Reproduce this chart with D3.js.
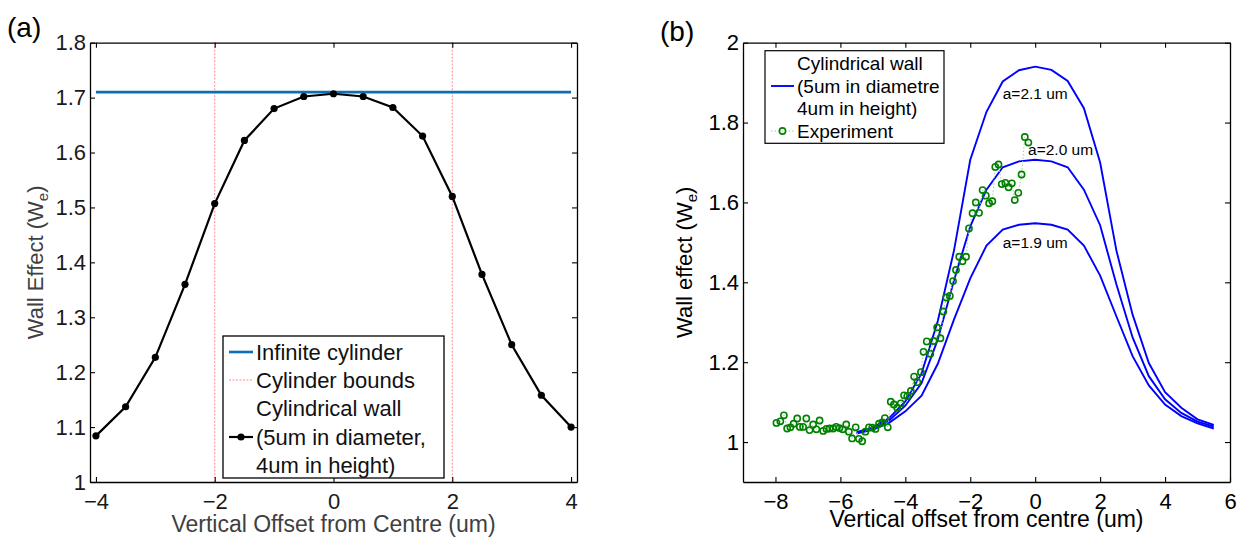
<!DOCTYPE html>
<html>
<head>
<meta charset="utf-8">
<script src="https://cdn.jsdelivr.net/npm/d3@7"></script>
<style>
  body { margin: 0; background: #fff; }
  svg { font-family: "Liberation Sans", Arial, Helvetica, sans-serif; }
</style>
</head>
<body>
<div id="chart"></div>
<script>

// ---- panel (a) data
var offsetA = [-4, -3.5, -3, -2.5, -2, -1.5, -1, -0.5, 0, 0.5, 1, 1.5, 2, 2.5, 3, 3.5, 4];
var wallA = [1.084, 1.137, 1.227, 1.360, 1.507, 1.622, 1.680, 1.702, 1.707, 1.702, 1.682, 1.630, 1.520, 1.378, 1.250, 1.158, 1.100];
var infiniteA = 1.710;
var boundsA = [-2, 2];
var xTicksA = [-4, -2, 0, 2, 4];
var yTicksA = [1, 1.1, 1.2, 1.3, 1.4, 1.5, 1.6, 1.7, 1.8];
var legendA = ["Infinite cylinder", "Cylinder bounds", "Cylindrical wall", "(5um in diameter,", "4um in height)"];

// ---- panel (b) data
var offsetB = [-5.5, -5, -4.5, -4, -3.5, -3, -2.5, -2, -1.5, -1, -0.5, 0, 0.5, 1, 1.5, 2, 2.5, 3, 3.5, 4, 4.5, 5, 5.5];
var wall21 = [1.025, 1.037, 1.060, 1.102, 1.172, 1.303, 1.480, 1.707, 1.827, 1.903, 1.931, 1.940, 1.932, 1.904, 1.836, 1.700, 1.480, 1.319, 1.198, 1.125, 1.086, 1.057, 1.043];
var wall20 = [1.023, 1.034, 1.054, 1.091, 1.148, 1.257, 1.405, 1.540, 1.632, 1.688, 1.703, 1.707, 1.703, 1.688, 1.632, 1.543, 1.395, 1.262, 1.165, 1.107, 1.073, 1.051, 1.039];
var wall19 = [1.021, 1.031, 1.048, 1.077, 1.116, 1.196, 1.307, 1.410, 1.492, 1.532, 1.544, 1.548, 1.544, 1.532, 1.492, 1.417, 1.315, 1.215, 1.142, 1.094, 1.065, 1.047, 1.034];
var curveLabels = ["a=2.1 um", "a=2.0 um", "a=1.9 um"];
var expX = [-7.97, -7.85, -7.74, -7.64, -7.54, -7.44, -7.33, -7.25, -7.15, -7.05,
            -6.95, -6.84, -6.74, -6.64, -6.53, -6.43, -6.33, -6.22, -6.13, -6.03,
            -5.93, -5.82, -5.74, -5.64, -5.53, -5.43, -5.33, -5.23, -5.12, -5.02,
            -4.92, -4.81, -4.71, -4.63, -4.54, -4.45, -4.35, -4.25, -4.14, -4.04,
            -3.94, -3.83, -3.73, -3.63, -3.52, -3.44, -3.34, -3.23, -3.13, -3.02,
            -2.92, -2.83, -2.74, -2.63, -2.53, -2.44, -2.34, -2.24, -2.13, -2.04,
            -1.93, -1.83, -1.73, -1.62, -1.52, -1.42, -1.32, -1.23, -1.13, -1.03,
            -0.92, -0.82, -0.72, -0.63, -0.52, -0.42, -0.32, -0.21];
var expY = [1.048, 1.052, 1.067, 1.034, 1.037, 1.046, 1.059, 1.038, 1.038, 1.059,
            1.030, 1.044, 1.032, 1.054, 1.028, 1.033, 1.034, 1.034, 1.038, 1.035,
            1.032, 1.044, 1.026, 1.009, 1.037, 1.008, 1.002, 1.026, 1.037, 1.036,
            1.033, 1.046, 1.049, 1.060, 1.037, 1.101, 1.094, 1.086, 1.097, 1.117,
            1.115, 1.128, 1.164, 1.150, 1.175, 1.226, 1.252, 1.221, 1.253, 1.287,
            1.260, 1.327, 1.362, 1.366, 1.403, 1.431, 1.464, 1.453, 1.464, 1.535,
            1.573, 1.600, 1.574, 1.631, 1.617, 1.598, 1.603, 1.689, 1.695, 1.646,
            1.649, 1.638, 1.648, 1.606, 1.624, 1.670, 1.764, 1.750];
var xTicksB = [-8, -6, -4, -2, 0, 2, 4, 6];
var yTicksB = [1, 1.2, 1.4, 1.6, 1.8, 2];
var legendB = ["Cylindrical wall", "(5um in diametre", "4um in height)", "Experiment"];

var w = 1243, h = 538;
var svg = d3.select("#chart").append("svg")
    .attr("width", w)
    .attr("height", h);

var plotTop = 42.7, plotBottom = 482;

// scales
var xA = d3.scaleLinear().domain([-4.1, 4.1]).range([90, 577]);
var yA = d3.scaleLinear().domain([1, 1.8]).range([plotBottom, plotTop]);
var xB = d3.scaleLinear().domain([-9, 6]).range([743, 1230]);
var yB = d3.scaleLinear().domain([0.9, 2]).range([plotBottom, plotTop]);

function fmtY(d) { return d === 1 || d === 2 ? String(d) : d.toFixed(1); }

// inward ticks on all four sides, like matlab
function drawAxes(xs, ys, xt, yt, color) {
    var x0 = xs.range()[0], x1 = xs.range()[1];
    var g = svg.append("g");
    g.append("g")
        .attr("transform", "translate(0," + plotBottom + ")")
        .call(d3.axisBottom(xs).tickValues(xt).tickSizeInner(-5).tickSizeOuter(0).tickPadding(11));
    g.append("g")
        .attr("transform", "translate(" + x0 + ",0)")
        .call(d3.axisLeft(ys).tickValues(yt).tickFormat(fmtY).tickSizeInner(-5).tickSizeOuter(0).tickPadding(4));
    g.append("g")
        .attr("transform", "translate(0," + plotTop + ")")
        .call(d3.axisTop(xs).tickValues(xt).tickFormat("").tickSizeInner(-5).tickSizeOuter(0));
    g.append("g")
        .attr("transform", "translate(" + x1 + ",0)")
        .call(d3.axisRight(ys).tickValues(yt).tickFormat("").tickSizeInner(-5).tickSizeOuter(0));
    g.selectAll("path.domain").attr("stroke", "#000").attr("stroke-width", 1.3);
    g.selectAll(".tick line").attr("stroke", "#000").attr("stroke-width", 1.1);
    g.selectAll("g").attr("font-family", null).attr("font-size", 22);
    g.selectAll(".tick text").attr("fill", color);
    return g;
}

// ---------- panel (a)
var pa = svg.append("g");

pa.selectAll("line.bound")
    .data(boundsA)
    .enter().append("line")
    .attr("class", "bound")
    .attr("x1", function(d) { return xA(d); })
    .attr("x2", function(d) { return xA(d); })
    .attr("y1", plotTop)
    .attr("y2", plotBottom)
    .attr("stroke", "#ff8a8a")
    .attr("stroke-width", 1)
    .attr("stroke-dasharray", "2,1.5");

pa.append("line")
    .attr("x1", xA(-4)).attr("x2", xA(4))
    .attr("y1", yA(infiniteA)).attr("y2", yA(infiniteA))
    .attr("stroke", "#0a6fb8")
    .attr("stroke-width", 2.6);

var lineA = d3.line()
    .x(function(d, i) { return xA(offsetA[i]); })
    .y(function(d) { return yA(d); });

pa.append("path")
    .datum(wallA)
    .attr("d", lineA)
    .attr("fill", "none")
    .attr("stroke", "#000")
    .attr("stroke-width", 2.2);

pa.selectAll("circle")
    .data(wallA)
    .enter().append("circle")
    .attr("cx", function(d, i) { return xA(offsetA[i]); })
    .attr("cy", function(d) { return yA(d); })
    .attr("r", 3.6)
    .attr("fill", "#000");

drawAxes(xA, yA, xTicksA, yTicksA, "#1a1a1a");

// legend (a)
var lg = svg.append("g");
lg.append("rect")
    .attr("x", 223).attr("y", 336)
    .attr("width", 221).attr("height", 142)
    .attr("fill", "#fff")
    .attr("stroke", "#000")
    .attr("stroke-width", 1.3);
lg.selectAll("text")
    .data(legendA)
    .enter().append("text")
    .attr("x", 256)
    .attr("y", function(d, i) { return 360 + i * 28.2; })
    .attr("font-size", 22)
    .attr("fill", "#111")
    .text(function(d) { return d; });
lg.append("line")
    .attr("x1", 229).attr("x2", 253).attr("y1", 352).attr("y2", 352)
    .attr("stroke", "#0a6fb8").attr("stroke-width", 2.6);
lg.append("line")
    .attr("x1", 229).attr("x2", 253).attr("y1", 380).attr("y2", 380)
    .attr("stroke", "#ff8a8a").attr("stroke-width", 1).attr("stroke-dasharray", "2,1.5");
lg.append("line")
    .attr("x1", 229).attr("x2", 253).attr("y1", 437).attr("y2", 437)
    .attr("stroke", "#000").attr("stroke-width", 2.2);
lg.append("circle")
    .attr("cx", 241).attr("cy", 437).attr("r", 3.6).attr("fill", "#000");

// axis labels (a)
svg.append("text")
    .attr("x", (xA.range()[0] + xA.range()[1]) / 2).attr("y", 532)
    .attr("text-anchor", "middle")
    .attr("font-size", 23)
    .attr("fill", "#404040")
    .text("Vertical Offset from Centre (um)");

var yla = svg.append("text")
    .attr("transform", "translate(43," + ((plotTop + plotBottom) / 2) + ") rotate(-90)")
    .attr("text-anchor", "middle")
    .attr("font-size", 22)
    .attr("fill", "#404040");
yla.append("tspan").text("Wall Effect (W");
yla.append("tspan").attr("font-size", 15).attr("dy", 5).text("e");
yla.append("tspan").attr("dy", -5).text(")");

svg.append("text")
    .attr("x", 7).attr("y", 37)
    .attr("font-size", 28)
    .attr("fill", "#000")
    .text("(a)");

// ---------- panel (b)
var pb = svg.append("g");

var lineB = d3.line()
    .x(function(d, i) { return xB(offsetB[i]); })
    .y(function(d) { return yB(d); });

pb.selectAll("path.model")
    .data([wall21, wall20, wall19])
    .enter().append("path")
    .attr("class", "model")
    .attr("d", lineB)
    .attr("fill", "none")
    .attr("stroke", "#0000ff")
    .attr("stroke-width", 1.9);

var lineExp = d3.line()
    .x(function(d, i) { return xB(expX[i]); })
    .y(function(d) { return yB(d); });

pb.append("path")
    .datum(expY)
    .attr("d", lineExp)
    .attr("fill", "none")
    .attr("stroke", "#9bd09b")
    .attr("stroke-width", 1)
    .attr("stroke-dasharray", "1.5,2");

pb.selectAll("circle")
    .data(expY)
    .enter().append("circle")
    .attr("cx", function(d, i) { return xB(expX[i]); })
    .attr("cy", function(d) { return yB(d); })
    .attr("r", 3.1)
    .attr("fill", "none")
    .attr("stroke", "#008000")
    .attr("stroke-width", 1.6);

// curve annotations (anchor points in data units)
var labelPos = [[-1.0, 1.859], [-0.22, 1.718], [-1.0, 1.485]];
pb.selectAll("text.alab")
    .data(curveLabels)
    .enter().append("text")
    .attr("class", "alab")
    .attr("x", function(d, i) { return xB(labelPos[i][0]); })
    .attr("y", function(d, i) { return yB(labelPos[i][1]); })
    .attr("font-size", 15.5)
    .attr("fill", "#000")
    .text(function(d) { return d; });

drawAxes(xB, yB, xTicksB, yTicksB, "#000");

// legend (b)
var lgb = svg.append("g");
lgb.append("rect")
    .attr("x", 765).attr("y", 50.7)
    .attr("width", 179).attr("height", 92.6)
    .attr("fill", "#fff")
    .attr("stroke", "#000")
    .attr("stroke-width", 1.2);
lgb.selectAll("text")
    .data(legendB)
    .enter().append("text")
    .attr("x", 797)
    .attr("y", function(d, i) { return 70 + i * 22.5; })
    .attr("font-size", 19)
    .attr("fill", "#000")
    .text(function(d) { return d; });
lgb.append("line")
    .attr("x1", 771).attr("x2", 794).attr("y1", 86).attr("y2", 86)
    .attr("stroke", "#0000ff").attr("stroke-width", 1.9);
lgb.append("line")
    .attr("x1", 771).attr("x2", 794).attr("y1", 131).attr("y2", 131)
    .attr("stroke", "#9bd09b").attr("stroke-width", 1).attr("stroke-dasharray", "1.5,2");
lgb.append("circle")
    .attr("cx", 782.5).attr("cy", 131).attr("r", 3.1)
    .attr("fill", "none").attr("stroke", "#008000").attr("stroke-width", 1.6);

// axis labels (b)
svg.append("text")
    .attr("x", (xB.range()[0] + xB.range()[1]) / 2).attr("y", 527)
    .attr("text-anchor", "middle")
    .attr("font-size", 23)
    .attr("fill", "#000")
    .text("Vertical offset from centre (um)");

var ylb = svg.append("text")
    .attr("transform", "translate(692," + ((plotTop + plotBottom) / 2) + ") rotate(-90)")
    .attr("text-anchor", "middle")
    .attr("font-size", 22)
    .attr("fill", "#000");
ylb.append("tspan").text("Wall effect (W");
ylb.append("tspan").attr("font-size", 15).attr("dy", 5).text("e");
ylb.append("tspan").attr("dy", -5).text(")");

svg.append("text")
    .attr("x", 660).attr("y", 41)
    .attr("font-size", 28)
    .attr("fill", "#000")
    .text("(b)");

</script>
</body>
</html>
